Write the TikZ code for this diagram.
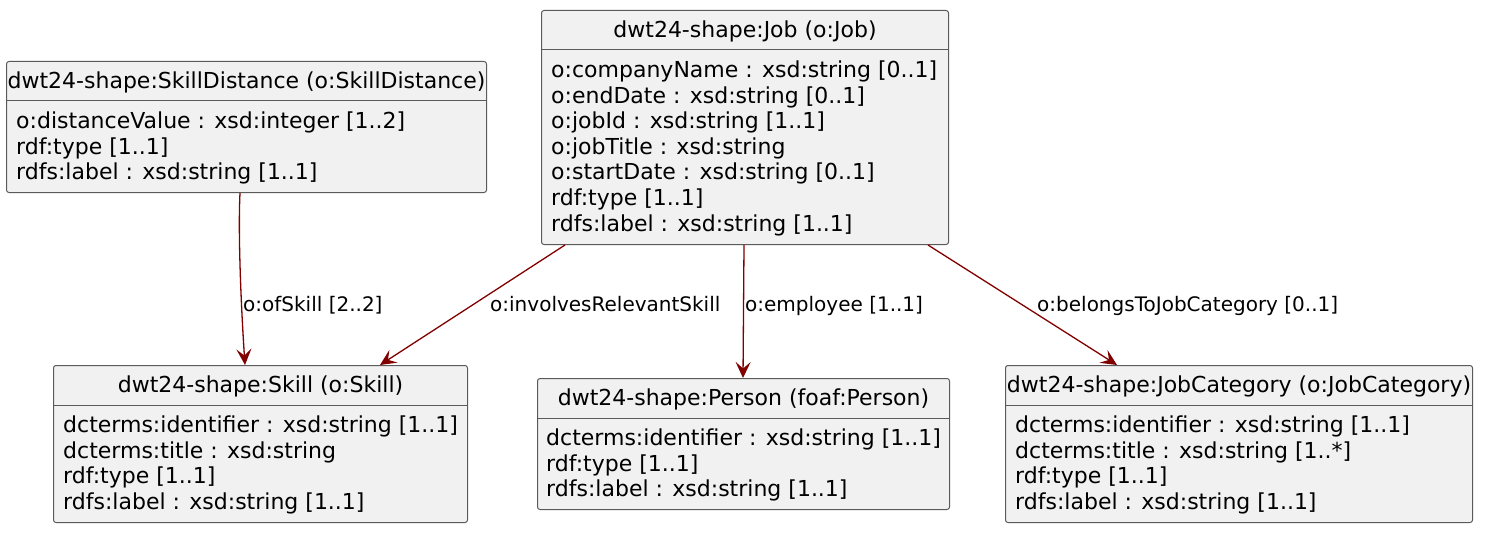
\documentclass[tikz,border=0pt]{standalone}
\usepackage{fontspec}
\setmainfont{DejaVu Sans}
\usetikzlibrary{arrows.meta,calc}
\definecolor{boxfill}{HTML}{F1F1F1}
\definecolor{boxline}{HTML}{5A5A5A}
\definecolor{arrowred}{HTML}{800000}
\newcommand{\memfont}{\fontsize{22bp}{25.6bp}\selectfont}
\newcommand{\lblfont}{\fontsize{20bp}{24bp}\selectfont}
\begin{document}
\begin{tikzpicture}[x=1bp,y=-1bp,
  classbox/.style={draw=boxline, fill=boxfill, line width=1bp, rounded corners=2.5bp, inner sep=0, anchor=north west},
  titletext/.style={font=\memfont, inner sep=0, anchor=base},
  memtext/.style={font=\memfont, inner sep=0, anchor=base west},
  lbl/.style={font=\lblfont, inner sep=0, anchor=base west},
  divider/.style={draw=boxline, line width=1bp},
  rel/.style={draw=arrowred, line width=1.3bp, -{Stealth[length=16bp,width=15bp,inset=6.5bp]}}]
\useasboundingbox (0,0) rectangle (1491,538);

% SkillDistance
\node[classbox, minimum width=480bp, minimum height=131bp] (sd) at (6,61) {};
\node[titletext] (sdT) at ($(sd.north)+(0,27.5)$) {dwt24-shape:SkillDistance (o:SkillDistance)};
\draw[divider] ($(sd.north west)+(0,40)$) -- ($(sd.north east)+(0,40)$);
\node[memtext] (sdM) at ($(sd.north west)+(10,67.5)$) {\begin{tabular}[t]{@{}l@{}}o:distanceValue : xsd:integer [1..2]\\rdf:type [1..1]\\rdfs:label : xsd:string [1..1]\end{tabular}};

% Job
\node[classbox, minimum width=407bp, minimum height=234bp] (job) at (541,10) {};
\node[titletext] (jobT) at ($(job.north)+(0,27.5)$) {dwt24-shape:Job (o:Job)};
\draw[divider] ($(job.north west)+(0,40)$) -- ($(job.north east)+(0,40)$);
\node[memtext] (jobM) at ($(job.north west)+(10,67.5)$) {\begin{tabular}[t]{@{}l@{}}o:companyName : xsd:string [0..1]\\o:endDate : xsd:string [0..1]\\o:jobId : xsd:string [1..1]\\o:jobTitle : xsd:string\\o:startDate : xsd:string [0..1]\\rdf:type [1..1]\\rdfs:label : xsd:string [1..1]\end{tabular}};

% Skill
\node[classbox, minimum width=414bp, minimum height=157bp] (skill) at (53,365) {};
\node[titletext] (skillT) at ($(skill.north)+(0,27.5)$) {dwt24-shape:Skill (o:Skill)};
\draw[divider] ($(skill.north west)+(0,40)$) -- ($(skill.north east)+(0,40)$);
\node[memtext] (skillM) at ($(skill.north west)+(10,67.5)$) {\begin{tabular}[t]{@{}l@{}}dcterms:identifier : xsd:string [1..1]\\dcterms:title : xsd:string\\rdf:type [1..1]\\rdfs:label : xsd:string [1..1]\end{tabular}};

% Person
\node[classbox, minimum width=412bp, minimum height=131bp] (person) at (537,378) {};
\node[titletext] (personT) at ($(person.north)+(0,27.5)$) {dwt24-shape:Person (foaf:Person)};
\draw[divider] ($(person.north west)+(0,40)$) -- ($(person.north east)+(0,40)$);
\node[memtext] (personM) at ($(person.north west)+(9,67.5)$) {\begin{tabular}[t]{@{}l@{}}dcterms:identifier : xsd:string [1..1]\\rdf:type [1..1]\\rdfs:label : xsd:string [1..1]\end{tabular}};

% JobCategory
\node[classbox, minimum width=467bp, minimum height=157bp] (jc) at (1005,365) {};
\node[titletext] (jcT) at ($(jc.north)+(0,27.5)$) {dwt24-shape:JobCategory (o:JobCategory)};
\draw[divider] ($(jc.north west)+(0,40)$) -- ($(jc.north east)+(0,40)$);
\node[memtext] (jcM) at ($(jc.north west)+(10,67.5)$) {\begin{tabular}[t]{@{}l@{}}dcterms:identifier : xsd:string [1..1]\\dcterms:title : xsd:string [1..*]\\rdf:type [1..1]\\rdfs:label : xsd:string [1..1]\end{tabular}};

% Connectors
\draw[rel] ($(sd.south west)+(234,0)$) .. controls +(-2,40) and +(-4,-60) .. ($(skill.north west)+(192,0)$);
\draw[rel] ($(job.south west)+(24,0)$) -- ($(skill.north west)+(327,0)$);
\draw[rel] ($(job.south west)+(203,0)$) -- ($(person.north west)+(206,0)$);
\draw[rel] ($(job.south west)+(387,0)$) -- ($(jc.north west)+(112,0)$);

% Labels
\node[lbl] (l1) at (243,311) {o:ofSkill [2..2]};
\node[lbl] (l2) at (490,311) {o:involvesRelevantSkill};
\node[lbl] (l3) at (745,311) {o:employee [1..1]};
\node[lbl] (l4) at (1037,311) {o:belongsToJobCategory [0..1]};
\end{tikzpicture}
\end{document}
